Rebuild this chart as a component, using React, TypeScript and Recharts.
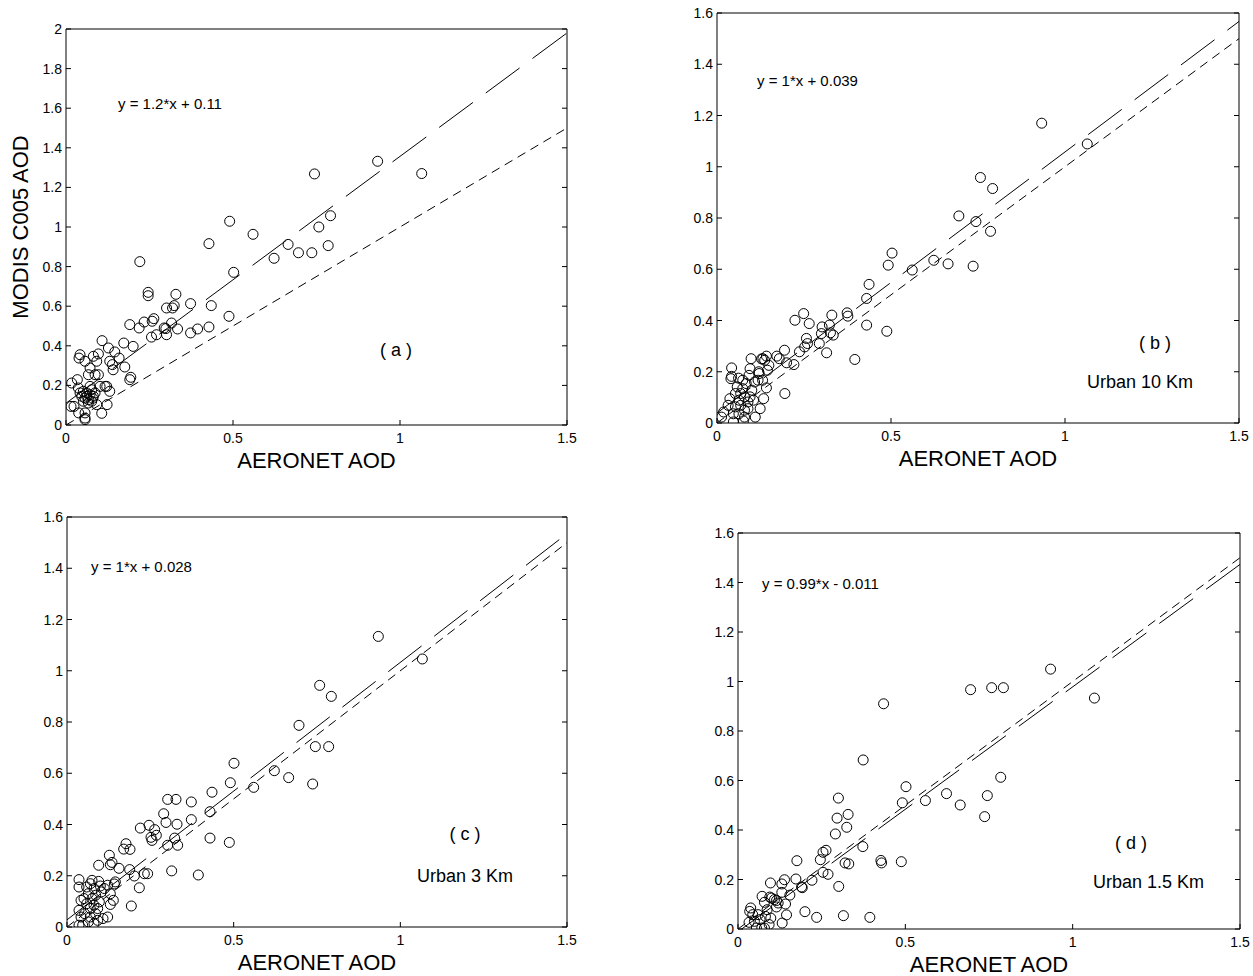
import { ScatterChart, Scatter, XAxis, YAxis, ReferenceLine } from 'recharts';

type Pt = [number, number];

const FONT = 'Arial, "Liberation Sans", Helvetica, sans-serif';

const xTicks = [0, 0.5, 1, 1.5];
const yTicks20 = [0, 0.2, 0.4, 0.6, 0.8, 1, 1.2, 1.4, 1.6, 1.8, 2];
const yTicks16 = [0, 0.2, 0.4, 0.6, 0.8, 1, 1.2, 1.4, 1.6];

// AERONET AOD vs MODIS AOD
const pointsA: Pt[] = [
  [0.933, 1.332], [1.065, 1.27], [0.744, 1.268], [0.792, 1.057], [0.757, 1.0], [0.785, 0.906], [0.736, 0.87],
  [0.696, 0.87], [0.665, 0.912], [0.623, 0.842], [0.56, 0.963], [0.49, 1.029], [0.502, 0.771], [0.428, 0.916],
  [0.435, 0.603], [0.488, 0.549], [0.428, 0.495], [0.394, 0.485], [0.373, 0.465], [0.373, 0.613], [0.334, 0.485],
  [0.329, 0.66], [0.324, 0.603], [0.319, 0.591], [0.301, 0.591], [0.316, 0.515], [0.301, 0.456], [0.294, 0.49],
  [0.299, 0.487], [0.271, 0.456], [0.256, 0.444], [0.263, 0.537], [0.258, 0.524], [0.234, 0.52], [0.246, 0.67],
  [0.246, 0.653], [0.221, 0.825], [0.219, 0.49], [0.191, 0.507], [0.173, 0.414], [0.201, 0.397], [0.176, 0.293],
  [0.194, 0.241], [0.191, 0.229], [0.159, 0.338], [0.146, 0.369], [0.141, 0.279], [0.139, 0.305], [0.131, 0.322],
  [0.127, 0.389], [0.108, 0.426], [0.131, 0.17], [0.122, 0.195], [0.123, 0.103], [0.107, 0.059], [0.097, 0.359],
  [0.092, 0.322], [0.082, 0.347], [0.072, 0.288], [0.042, 0.355], [0.039, 0.338], [0.057, 0.322], [0.034, 0.229],
  [0.017, 0.212], [0.037, 0.187], [0.015, 0.094], [0.024, 0.094], [0.038, 0.061], [0.057, 0.061], [0.057, 0.027],
  [0.057, 0.035], [0.067, 0.254], [0.087, 0.254], [0.097, 0.254], [0.102, 0.195], [0.117, 0.195], [0.047, 0.145],
  [0.052, 0.17], [0.057, 0.136], [0.062, 0.162], [0.067, 0.128], [0.072, 0.153], [0.077, 0.178], [0.082, 0.145],
  [0.087, 0.162], [0.052, 0.12], [0.067, 0.111], [0.077, 0.12], [0.092, 0.103], [0.042, 0.162], [0.072, 0.195],
  [0.062, 0.145], [0.08, 0.135],
];

const pointsB: Pt[] = [
  [0.933, 1.17], [1.064, 1.089], [0.757, 0.958], [0.792, 0.915], [0.695, 0.808], [0.744, 0.786], [0.786, 0.748],
  [0.736, 0.612], [0.664, 0.621], [0.623, 0.635], [0.561, 0.597], [0.503, 0.663], [0.492, 0.616], [0.437, 0.541],
  [0.43, 0.486], [0.43, 0.382], [0.488, 0.358], [0.396, 0.248], [0.374, 0.43], [0.376, 0.417], [0.33, 0.421],
  [0.334, 0.343], [0.323, 0.382], [0.326, 0.352], [0.302, 0.375], [0.3, 0.349], [0.294, 0.31], [0.315, 0.274],
  [0.249, 0.427], [0.265, 0.388], [0.224, 0.401], [0.257, 0.33], [0.26, 0.31], [0.237, 0.278], [0.252, 0.297],
  [0.221, 0.228], [0.2, 0.235], [0.194, 0.284], [0.172, 0.261], [0.179, 0.251], [0.195, 0.115], [0.142, 0.261],
  [0.132, 0.251], [0.128, 0.25], [0.098, 0.251], [0.145, 0.206], [0.121, 0.193], [0.118, 0.167], [0.142, 0.137],
  [0.134, 0.095], [0.124, 0.056], [0.11, 0.023], [0.095, 0.212], [0.092, 0.186], [0.074, 0.167], [0.042, 0.215],
  [0.042, 0.182], [0.04, 0.173], [0.013, 0.023], [0.019, 0.043], [0.047, 0.004], [0.076, 0.008], [0.037, 0.095],
  [0.053, 0.115], [0.063, 0.089], [0.068, 0.069], [0.079, 0.102], [0.089, 0.082], [0.053, 0.063], [0.047, 0.036],
  [0.063, 0.036], [0.079, 0.05], [0.089, 0.056], [0.058, 0.141], [0.074, 0.134], [0.084, 0.154], [0.1, 0.128],
  [0.068, 0.115], [0.032, 0.069], [0.095, 0.102], [0.105, 0.089], [0.079, 0.023], [0.131, 0.167], [0.149, 0.225],
  [0.137, 0.245], [0.062, 0.175], [0.108, 0.16], [0.12, 0.2],
];

const pointsC: Pt[] = [
  [0.934, 1.134], [1.066, 1.046], [0.758, 0.943], [0.793, 0.9], [0.696, 0.787], [0.745, 0.704], [0.785, 0.704],
  [0.737, 0.558], [0.665, 0.583], [0.622, 0.61], [0.56, 0.545], [0.501, 0.639], [0.49, 0.563], [0.487, 0.33],
  [0.435, 0.526], [0.429, 0.45], [0.429, 0.347], [0.394, 0.203], [0.373, 0.488], [0.373, 0.419], [0.327, 0.498],
  [0.302, 0.498], [0.29, 0.442], [0.297, 0.408], [0.33, 0.401], [0.323, 0.347], [0.332, 0.319], [0.302, 0.319],
  [0.314, 0.219], [0.246, 0.397], [0.263, 0.38], [0.268, 0.358], [0.255, 0.338], [0.252, 0.35], [0.22, 0.386],
  [0.242, 0.208], [0.232, 0.208], [0.217, 0.153], [0.177, 0.325], [0.17, 0.304], [0.189, 0.303], [0.188, 0.224],
  [0.202, 0.199], [0.193, 0.082], [0.156, 0.229], [0.127, 0.28], [0.135, 0.252], [0.13, 0.243], [0.145, 0.176],
  [0.142, 0.168], [0.095, 0.241], [0.095, 0.178], [0.122, 0.163], [0.13, 0.13], [0.139, 0.104], [0.13, 0.088],
  [0.122, 0.039], [0.108, 0.033], [0.036, 0.185], [0.036, 0.156], [0.042, 0.104], [0.036, 0.065], [0.042, 0.039],
  [0.036, 0.007], [0.047, 0.007], [0.059, 0.156], [0.07, 0.169], [0.081, 0.15], [0.064, 0.13], [0.075, 0.111],
  [0.086, 0.124], [0.059, 0.091], [0.07, 0.072], [0.081, 0.085], [0.053, 0.052], [0.07, 0.039], [0.086, 0.052],
  [0.064, 0.02], [0.081, 0.013], [0.092, 0.072], [0.097, 0.098], [0.103, 0.137], [0.051, 0.111], [0.092, 0.026],
  [0.075, 0.182], [0.112, 0.15], [0.1, 0.16],
];

const pointsD: Pt[] = [
  [0.934, 1.05], [1.065, 0.933], [0.695, 0.967], [0.758, 0.975], [0.793, 0.975], [0.435, 0.91], [0.374, 0.683],
  [0.785, 0.613], [0.745, 0.539], [0.737, 0.454], [0.664, 0.501], [0.623, 0.547], [0.56, 0.519], [0.502, 0.575],
  [0.491, 0.51], [0.488, 0.272], [0.427, 0.277], [0.429, 0.267], [0.394, 0.047], [0.373, 0.333], [0.3, 0.529],
  [0.296, 0.448], [0.329, 0.463], [0.325, 0.411], [0.291, 0.384], [0.32, 0.267], [0.331, 0.263], [0.301, 0.172],
  [0.315, 0.054], [0.263, 0.318], [0.254, 0.31], [0.246, 0.28], [0.254, 0.229], [0.269, 0.221], [0.235, 0.047],
  [0.2, 0.07], [0.221, 0.197], [0.19, 0.17], [0.192, 0.167], [0.173, 0.202], [0.176, 0.276], [0.155, 0.137],
  [0.139, 0.199], [0.131, 0.182], [0.131, 0.148], [0.142, 0.101], [0.145, 0.057], [0.132, 0.024], [0.097, 0.186],
  [0.095, 0.129], [0.12, 0.105], [0.115, 0.089], [0.098, 0.044], [0.093, 0.018], [0.072, 0.132], [0.079, 0.108],
  [0.087, 0.078], [0.038, 0.085], [0.035, 0.071], [0.044, 0.058], [0.049, 0.031], [0.055, 0.004], [0.071, 0.004],
  [0.079, 0.004], [0.066, 0.038], [0.033, 0.027], [0.06, 0.058], [0.082, 0.051], [0.109, 0.119], [0.1, 0.125],
  [0.115, 0.115],
];

// regression line end points and the 1:1 line
const fitA: Pt[] = [[0, 0.11], [1.5, 1.98]];
const fitB: Pt[] = [[0, 0.039], [1.5, 1.567]];
const fitC: Pt[] = [[0, 0.028], [1.5, 1.535]];
const fitD: Pt[] = [[0, -0.011], [1.5, 1.473]];
const oneToOne: Pt[] = [[0, 0], [1.5, 1.5]];

const equations = ['y = 1.2*x + 0.11', 'y = 1*x + 0.039', 'y = 1*x + 0.028', 'y = 0.99*x - 0.011'];
const tags = ['( a )', '( b )', '( c )', '( d )'];
const sites = ['', 'Urban 10 Km', 'Urban 3 Km', 'Urban 1.5 Km'];

const panels = [
  { left: 66, top: 29, w: 501, h: 396, yMax: 2, yTicks: yTicks20, points: pointsA, fit: fitA,
    eq: [118, 108.5], tag: [396, 356], site: [0, 0] },
  { left: 717, top: 13, w: 522, h: 410, yMax: 1.6, yTicks: yTicks16, points: pointsB, fit: fitB,
    eq: [757, 86], tag: [1155, 349], site: [1087, 388] },
  { left: 67, top: 517, w: 500, h: 410, yMax: 1.6, yTicks: yTicks16, points: pointsC, fit: fitC,
    eq: [91, 572], tag: [465, 840], site: [417, 882] },
  { left: 738, top: 533, w: 502, h: 396, yMax: 1.6, yTicks: yTicks16, points: pointsD, fit: fitD,
    eq: [762, 589], tag: [1131, 849], site: [1093, 888] },
];

const fmt = (v: number) => String(Math.round(v * 10) / 10);

const BottomTick = ({ x, y, payload }: any) => (
  <g>
    <line x1={x} x2={x} y1={y} y2={y - 5} stroke="#000" />
    <text x={x} y={y + 18} textAnchor="middle" fontSize={14} fontFamily={FONT} fill="#000">{fmt(payload.value)}</text>
  </g>
);

const TopTick = ({ x, y }: any) => <line x1={x} x2={x} y1={y} y2={y + 5} stroke="#000" />;

const LeftTick = ({ x, y, payload }: any) => (
  <g>
    <line x1={x} x2={x + 5} y1={y} y2={y} stroke="#000" />
    <text x={x - 4} y={y + 5} textAnchor="end" fontSize={14} fontFamily={FONT} fill="#000">{fmt(payload.value)}</text>
  </g>
);

const RightTick = ({ x, y }: any) => <line x1={x} x2={x - 5} y1={y} y2={y} stroke="#000" />;

const Ring = (props: any) => <circle cx={props.cx} cy={props.cy} r={5} fill="none" stroke="#000" strokeWidth={1} />;

// margins around the plot box inside each chart
const M_LEFT = 50, M_TOP = 11, M_RIGHT = 16, M_BOTTOM = 35;

function Panel({ p }: { p: (typeof panels)[number] }) {
  const data = p.points.map(([x, y]) => ({ x, y }));
  const seg = (pts: Pt[]) => pts.map(([x, y]) => ({ x, y }));
  return (
    <div style={{ position: 'absolute', left: p.left - M_LEFT, top: p.top - M_TOP }}>
      <ScatterChart width={p.w + M_LEFT + M_RIGHT} height={p.h + M_TOP + M_BOTTOM}
        margin={{ top: 10, right: 15, left: 0, bottom: 0 }}>
        <XAxis type="number" dataKey="x" domain={[0, 1.5]} ticks={xTicks} interval={0} allowDataOverflow
          height={M_BOTTOM} tickSize={0} tickMargin={0} tickLine={false} axisLine={{ stroke: '#000' }} tick={BottomTick} />
        <XAxis xAxisId="top" orientation="top" type="number" domain={[0, 1.5]} ticks={xTicks} interval={0} allowDataOverflow
          height={1} tickSize={0} tickMargin={0} tickLine={false} axisLine={{ stroke: '#000' }} tick={TopTick} />
        <YAxis type="number" dataKey="y" domain={[0, p.yMax]} ticks={p.yTicks} interval={0} allowDataOverflow
          width={M_LEFT} tickSize={0} tickMargin={0} tickLine={false} axisLine={{ stroke: '#000' }} tick={LeftTick} />
        <YAxis yAxisId="right" orientation="right" type="number" domain={[0, p.yMax]} ticks={p.yTicks} interval={0} allowDataOverflow
          width={1} tickSize={0} tickMargin={0} tickLine={false} axisLine={{ stroke: '#000' }} tick={RightTick} />
        <ReferenceLine segment={seg(oneToOne)} stroke="#000" strokeWidth={1} strokeDasharray="9 6" ifOverflow="hidden" />
        <ReferenceLine segment={seg(p.fit)} stroke="#000" strokeWidth={1} strokeDasharray="42 16" ifOverflow="hidden" />
        <Scatter data={data} shape={Ring} isAnimationActive={false} />
      </ScatterChart>
    </div>
  );
}

export default function App() {
  return (
    <div style={{ position: 'absolute', left: 0, top: 0, width: 1253, height: 976, background: '#fff', fontFamily: FONT }}>
      {panels.map((p, i) => <Panel key={i} p={p} />)}
      <svg width={1253} height={976} style={{ position: 'absolute', left: 0, top: 0, pointerEvents: 'none' }}>
        <text x={20} y={227} transform="rotate(-90 20 227)" textAnchor="middle" dominantBaseline="central"
          fontSize={22} fontFamily={FONT} fill="#000">MODIS C005 AOD</text>
        {panels.map((p, i) => (
          <g key={i} fontFamily={FONT} fill="#000">
            <text x={p.left + p.w / 2} y={p.top + p.h + 43} textAnchor="middle" fontSize={22}>AERONET AOD</text>
            <text x={p.eq[0]} y={p.eq[1]} fontSize={15}>{equations[i]}</text>
            <text x={p.tag[0]} y={p.tag[1]} textAnchor="middle" fontSize={18}>{tags[i]}</text>
            {sites[i] && <text x={p.site[0]} y={p.site[1]} fontSize={18}>{sites[i]}</text>}
          </g>
        ))}
      </svg>
    </div>
  );
}
